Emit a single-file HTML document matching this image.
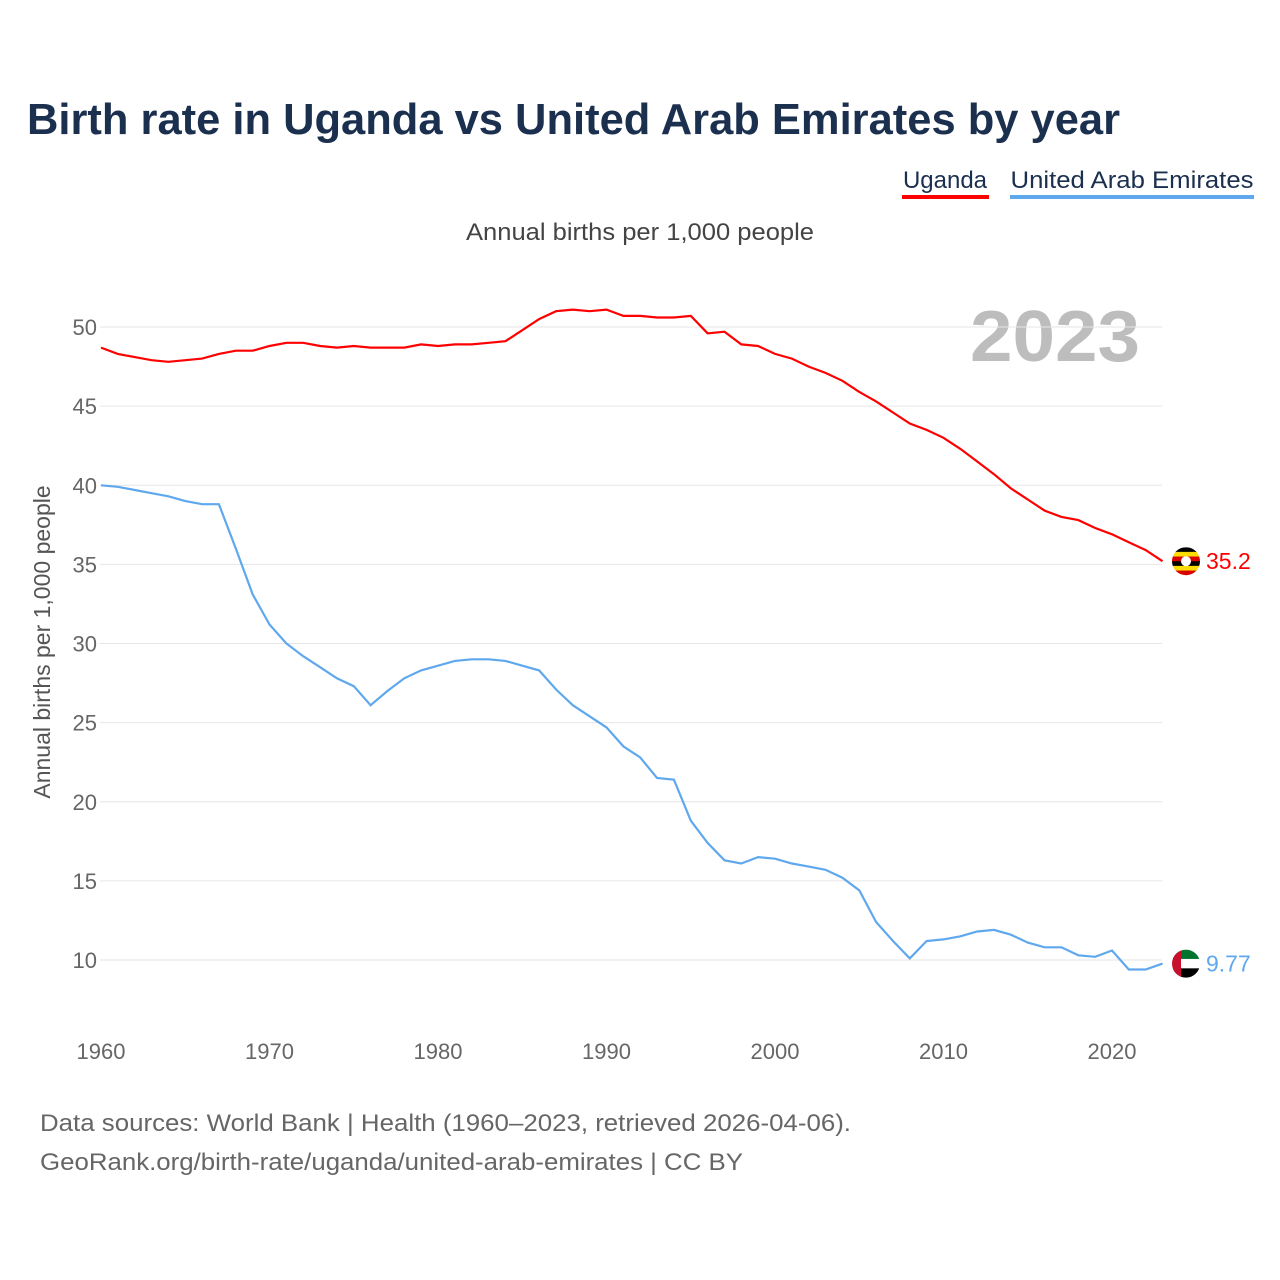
<!DOCTYPE html>
<html><head><meta charset="utf-8">
<style>
body{margin:0;background:#fff;font-family:"Liberation Sans",sans-serif;}
svg{display:block}
</style></head>
<body>
<svg id="chart" width="1280" height="1280" viewBox="0 0 1280 1280">
<text x="27" y="134" font-size="44" font-weight="bold" fill="#1b2f4e" textLength="1093" lengthAdjust="spacingAndGlyphs">Birth rate in Uganda vs United Arab Emirates by year</text>
<g>
<text x="945" y="188" font-size="24" fill="#1b2f4e" text-anchor="middle">Uganda</text>
<rect x="902" y="195" width="87" height="4" fill="#ff0000"/>
<text x="1132" y="188" font-size="24" fill="#1b2f4e" text-anchor="middle" textLength="243" lengthAdjust="spacingAndGlyphs">United Arab Emirates</text>
<rect x="1010" y="195" width="244" height="4" fill="#5fa8ee"/>
</g>
<text x="466" y="240" font-size="24" fill="#444" textLength="348" lengthAdjust="spacingAndGlyphs">Annual births per 1,000 people</text>
<text x="970" y="361" font-size="72" font-weight="bold" fill="#bdbdbd" textLength="170" lengthAdjust="spacingAndGlyphs">2023</text>
<text transform="translate(50,642) rotate(-90)" font-size="23" fill="#555" text-anchor="middle">Annual births per 1,000 people</text>
<g id="grid"></g><g id="yticks"></g><g id="xticks"></g><g id="lines"></g><g id="ends"></g>
<text x="40" y="1131" font-size="24" fill="#666" textLength="811" lengthAdjust="spacingAndGlyphs">Data sources: World Bank | Health (1960–2023, retrieved 2026-04-06).</text>
<text x="40" y="1170" font-size="24" fill="#666" textLength="703" lengthAdjust="spacingAndGlyphs">GeoRank.org/birth-rate/uganda/united-arab-emirates | CC BY</text>
</svg>
<script>
const years=[];for(let y=1960;y<=2023;y++)years.push(y);
const uganda=[48.7,48.3,48.1,47.9,47.8,47.9,48.0,48.3,48.5,48.5,48.8,49.0,49.0,48.8,48.7,48.8,48.7,48.7,48.7,48.9,48.8,48.9,48.9,49.0,49.1,49.8,50.5,51.0,51.1,51.0,51.1,50.7,50.7,50.6,50.6,50.7,49.6,49.7,48.9,48.8,48.3,48.0,47.5,47.1,46.6,45.9,45.3,44.6,43.9,43.5,43.0,42.3,41.5,40.7,39.8,39.1,38.4,38.0,37.8,37.3,36.9,36.4,35.9,35.2];
const uae=[40.0,39.9,39.7,39.5,39.3,39.0,38.8,38.8,36.0,33.1,31.2,30.0,29.2,28.5,27.8,27.3,26.1,27.0,27.8,28.3,28.6,28.9,29.0,29.0,28.9,28.6,28.3,27.1,26.1,25.4,24.7,23.5,22.8,21.5,21.4,18.8,17.4,16.3,16.1,16.5,16.4,16.1,15.9,15.7,15.2,14.4,12.4,11.2,10.1,11.2,11.3,11.5,11.8,11.9,11.6,11.1,10.8,10.8,10.3,10.2,10.6,9.4,9.4,9.77];
const yTicks=[10,15,20,25,30,35,40,45,50];
const xTicks=[1960,1970,1980,1990,2000,2010,2020];
const endLabels=["35.2","9.77"];
const NS="http://www.w3.org/2000/svg";
const X=v=>101+(v-1960)*(1112-101)/60;
const Y=v=>960-(v-10)*(960-327)/40;
function mk(t,a,p){const e=document.createElementNS(NS,t);for(const k in a)e.setAttribute(k,a[k]);p.appendChild(e);return e;}
const grid=document.getElementById('grid'),yt=document.getElementById('yticks'),xt=document.getElementById('xticks');
yTicks.forEach(v=>{
 const l=mk('line',{x1:100,x2:1162,y1:Y(v),y2:Y(v),stroke:'#e6e6e6','stroke-width':1},grid);
 
 
 const t=mk('text',{x:97,y:Y(v)+8,'font-size':22,fill:'#666','text-anchor':'end'},yt);t.textContent=v;
 
 
});
xTicks.forEach(v=>{
 const t=mk('text',{x:X(v),y:1059,'font-size':22,fill:'#666','text-anchor':'middle'},xt);t.textContent=v;
 
 
});
const lines=document.getElementById('lines');
[[uganda,'#ff0000','uganda-line'],[uae,'#5fa8ee','uae-line']].forEach(([d,c,n])=>{
 const p=mk('path',{d:d.map((v,i)=>(i?'L':'M')+X(years[i]).toFixed(1)+','+Y(v).toFixed(1)).join(''),fill:'none',stroke:c,'stroke-width':2.2},lines);
 
 
});
const ends=document.getElementById('ends');
const last=years.length-1;
let cy=Y(uganda[last]),cx=1186;
let cp=mk('clipPath',{id:'cu'},ends);mk('circle',{cx:cx,cy:cy,r:14},cp);
let g=mk('g',{'clip-path':'url(#cu)'},ends);


['#000','#fcdc04','#d90000','#000','#fcdc04','#d90000'].forEach((c,i)=>mk('rect',{x:cx-14,y:cy-14+i*28/6,width:28,height:28/6+0.5,fill:c},g));
mk('circle',{cx:cx,cy:cy,r:5,fill:'#fff'},g);
let t=mk('text',{x:1206,y:cy+8,'font-size':23,fill:'#ff0000'},ends);t.textContent=endLabels[0];


cy=Y(uae[last]);
cp=mk('clipPath',{id:'ca'},ends);mk('circle',{cx:cx,cy:cy,r:14},cp);
g=mk('g',{'clip-path':'url(#ca)'},ends);


mk('rect',{x:cx-14,y:cy-14,width:28,height:10,fill:'#00732f'},g);
mk('rect',{x:cx-14,y:cy-4.7,width:28,height:9.4,fill:'#fff'},g);
mk('rect',{x:cx-14,y:cy+4.7,width:28,height:10,fill:'#000'},g);
mk('rect',{x:cx-14,y:cy-14,width:9,height:28,fill:'#c8102e'},g);
t=mk('text',{x:1206,y:cy+8,'font-size':23,fill:'#5fa8ee'},ends);t.textContent=endLabels[1];


</script>
</body></html>
